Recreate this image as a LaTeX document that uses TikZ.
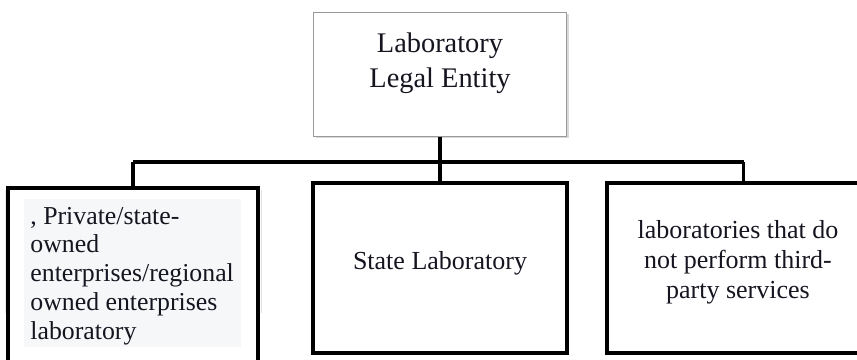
\documentclass[tikz,border=0pt]{standalone}
\usepackage{fontspec}
\setmainfont{Liberation Serif}
\usetikzlibrary{shadows}
\definecolor{txt}{HTML}{151520}
\definecolor{shadebg}{HTML}{F6F7F9}
\tikzset{
  bigbox/.style={draw=black, line width=1.7pt, rectangle, inner sep=0pt},
  topbox/.style={draw=black!40, line width=0.5pt, fill=white, rectangle, inner sep=0pt,
    drop shadow={shadow xshift=1.2pt, shadow yshift=-1.2pt, opacity=0.25, fill=black!60}},
  conn/.style={line width=1.6pt, black},
  lbl/.style={text=txt, inner sep=0pt, font=\fontsize{13pt}{15pt}\selectfont}
}
\begin{document}
\begin{tikzpicture}[x=1pt,y=1pt]
\useasboundingbox (0,0) rectangle (428.5,-179.5);
% top box
\node[topbox, minimum width=126.5pt, minimum height=62pt] (top) at (220,-37) {};
\node[lbl, align=center, font=\fontsize{14.2pt}{17.5pt}\selectfont] (toptext) at (220,-31.5) {Laboratory\\Legal Entity};
% faint shadow in left box
\draw[black!12, line width=0.5pt] (130.5,-95) -- (130.5,-156.5);
\draw[black!8, line width=0.5pt] (2.5,-95) -- (2.5,-156.5);
% bottom boxes
\node[bigbox, minimum width=125pt, minimum height=106pt] (l) at (66.5,-147) {};
\node[bigbox, minimum width=127pt, minimum height=85pt] (m) at (220,-134) {};
\node[bigbox, minimum width=136.5pt, minimum height=85pt] (r) at (371.75,-134) {};
% text background in left box
\fill[shadebg] (12,-99.5) rectangle (120.5,-173.5);
\node[lbl, align=left, anchor=west, font=\fontsize{12.9pt}{14.4pt}\selectfont] (ltext) at (15,-138) {, Private/state-\\owned\\enterprises/regional\\owned enterprises\\laboratory};
\node[lbl] (mtext) at (220,-131.5) {State Laboratory};
\node[lbl, align=center] (rtext) at (369,-131) {laboratories that do\\not perform third-\\party services};
% connectors
\coordinate (j) at (220,-81);
\coordinate (jl) at (l.north |- j);
\coordinate (jr) at (r.north |- j);
\draw[conn] (top.south) -- (j);
\draw[conn] (j) -- (m.north);
\draw[conn] (jl) -- (jr);
\draw[conn] (jl) -- (l.north);
\draw[conn] (jr) -- (r.north);
\end{tikzpicture}
\end{document}
